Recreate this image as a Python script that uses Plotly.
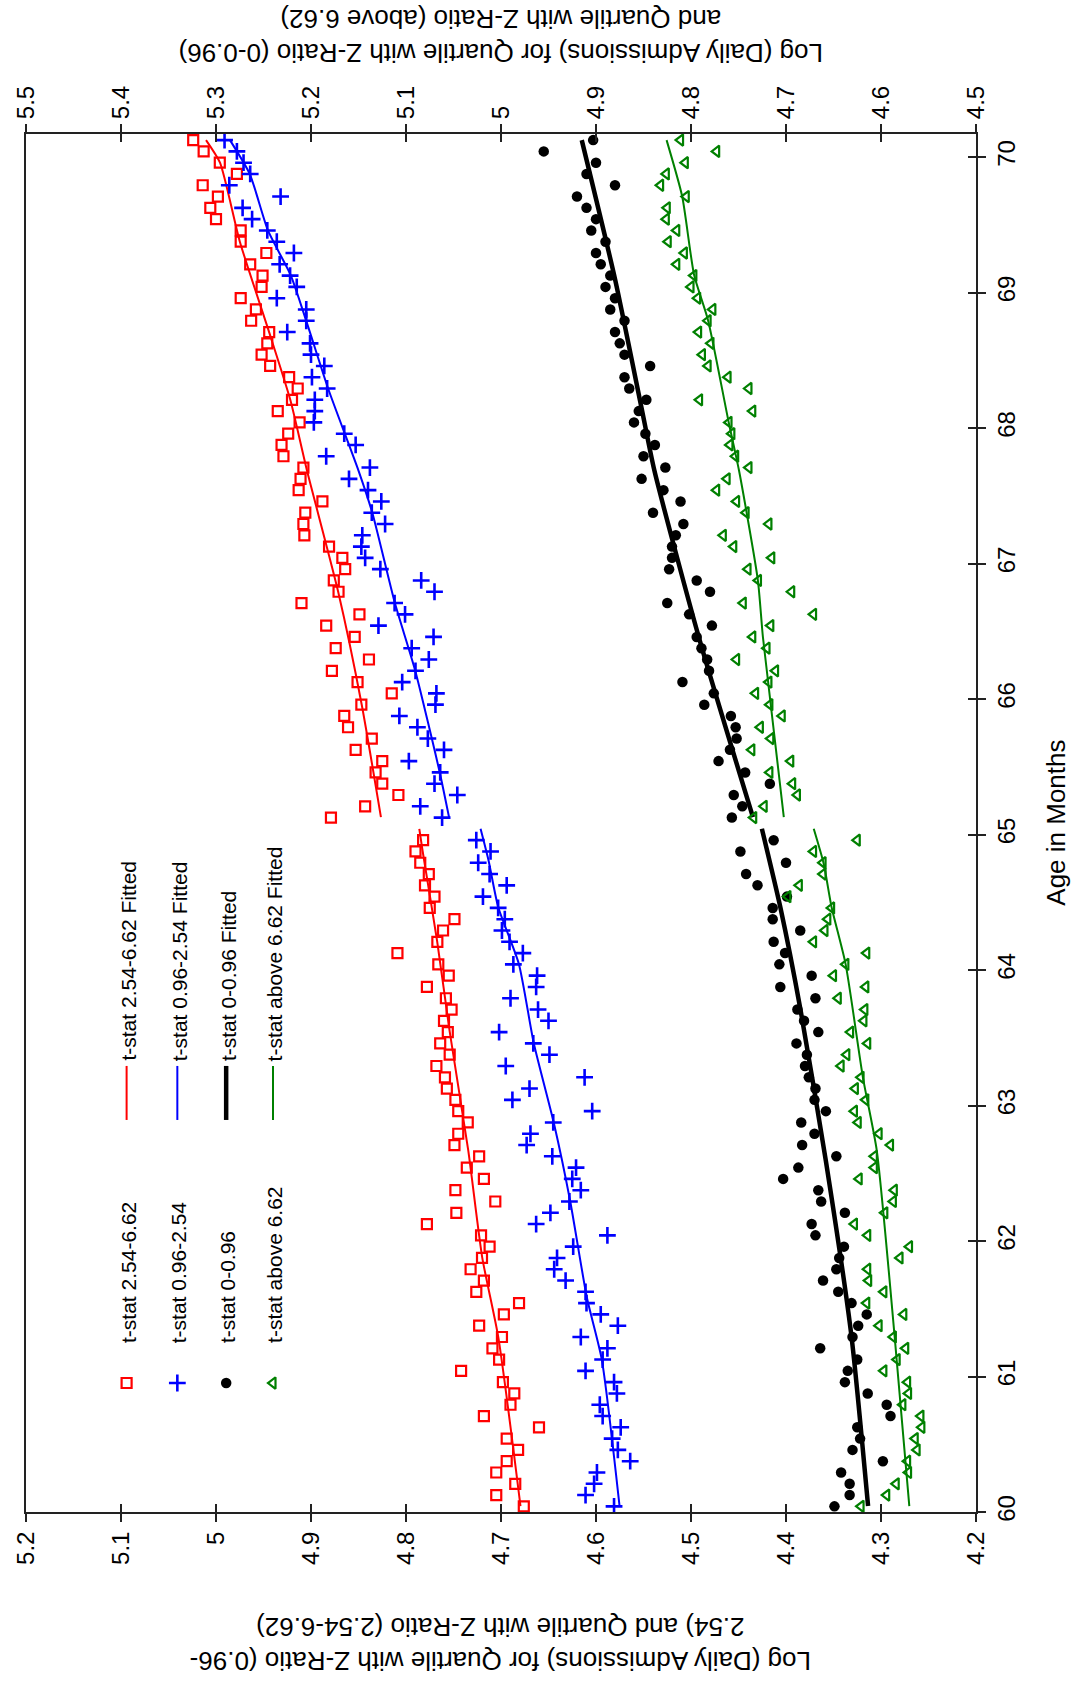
import plotly.graph_objects as go

# ---------------- data ----------------
MONTH_BINS_BELOW = list(range(0, 60))      # 1/12-month bins before age 65
MONTH_BINS_ABOVE = list(range(61, 122))    # 1/12-month bins after age 65
AGE_BELOW = [round(60 + (k + 0.5) / 12, 4) for k in MONTH_BINS_BELOW]
AGE_ABOVE = [round(60 + (k + 0.5) / 12, 4) for k in MONTH_BINS_ABOVE]

RED_BELOW = [4.676, 4.705, 4.685, 4.705, 4.694, 4.682, 4.694, 4.660, 4.718, 4.690,
             4.686, 4.698, 4.742, 4.702, 4.709, 4.699, 4.723, 4.697, 4.681, 4.726,
             4.718, 4.732, 4.720, 4.712, 4.721, 4.778, 4.747, 4.706, 4.748, 4.718,
             4.736, 4.723, 4.749, 4.745, 4.735, 4.745, 4.748, 4.757, 4.759, 4.768,
             4.754, 4.764, 4.756, 4.760, 4.752, 4.758, 4.778, 4.755, 4.766, 4.809,
             4.767, 4.761, 4.749, 4.775, 4.770, 4.780, 4.776, 4.785, 4.790, 4.782]
RED_ABOVE = [4.879, 4.843, 4.808, 4.825, 4.832, 4.825, 4.853, 4.836, 4.861, 4.865,
             4.847, 4.815, 4.851, 4.878, 4.839, 4.874, 4.854, 4.884, 4.849, 4.910,
             4.871, 4.876, 4.864, 4.867, 4.881, 4.907, 4.908, 4.906, 4.888, 4.913,
             4.911, 4.908, 4.929, 4.931, 4.924, 4.912, 4.935, 4.920, 4.914, 4.923,
             4.943, 4.952, 4.946, 4.944, 4.963, 4.958, 4.974, 4.952, 4.951, 4.964,
             4.947, 4.974, 4.974, 5.000, 5.006, 4.998, 5.014, 4.978, 4.996, 5.013,
             5.024]

BLUE_BELOW = [4.581, 4.611, 4.602, 4.599, 4.564, 4.577, 4.583, 4.574, 4.593, 4.596,
              4.578, 4.581, 4.611, 4.593, 4.588, 4.616, 4.577, 4.595, 4.610, 4.611,
              4.632, 4.644, 4.641, 4.624, 4.588, 4.663, 4.648, 4.628, 4.616, 4.625,
              4.621, 4.646, 4.673, 4.669, 4.645, 4.604, 4.688, 4.670, 4.612, 4.695,
              4.649, 4.666, 4.702, 4.650, 4.661, 4.690, 4.663, 4.662, 4.687, 4.677,
              4.691, 4.699, 4.696, 4.703, 4.719, 4.694, 4.712, 4.724, 4.711, 4.726]
BLUE_ABOVE = [4.762, 4.785, 4.746, 4.770, 4.764, 4.797, 4.760, 4.777, 4.788, 4.807,
              4.769, 4.768, 4.804, 4.790, 4.776, 4.794, 4.771, 4.829, 4.801, 4.812,
              4.770, 4.784, 4.827, 4.843, 4.847, 4.846, 4.822, 4.836, 4.826, 4.840,
              4.860, 4.838, 4.884, 4.853, 4.865, 4.897, 4.896, 4.896, 4.883, 4.899,
              4.886, 4.900, 4.901, 4.925, 4.905, 4.905, 4.936, 4.915, 4.922, 4.933,
              4.918, 4.936, 4.946, 4.962, 4.972, 4.932, 4.986, 4.964, 4.971, 4.978,
              4.991]

BLACK_BELOW = [4.649, 4.633, 4.633, 4.642, 4.598, 4.630, 4.622, 4.625, 4.590, 4.594,
               4.614, 4.638, 4.635, 4.625, 4.664, 4.630, 4.624, 4.615, 4.631, 4.645,
               4.661, 4.647, 4.644, 4.639, 4.669, 4.673, 4.638, 4.663, 4.666, 4.703,
               4.687, 4.647, 4.683, 4.670, 4.684, 4.658, 4.670, 4.669, 4.676, 4.680,
               4.678, 4.689, 4.666, 4.681, 4.688, 4.669, 4.706, 4.673, 4.707, 4.701,
               4.713, 4.685, 4.714, 4.714, 4.699, 4.730, 4.742, 4.700, 4.748, 4.713]
BLACK_ABOVE = [4.757, 4.746, 4.755, 4.717, 4.743, 4.771, 4.759, 4.752, 4.753, 4.758,
               4.786, 4.776, 4.809, 4.781, 4.783, 4.789, 4.794, 4.778, 4.802, 4.825,
               4.780, 4.794, 4.823, 4.820, 4.820, 4.816, 4.808, 4.840, 4.811, 4.829,
               4.852, 4.827, 4.850, 4.838, 4.848, 4.860, 4.855, 4.847, 4.865, 4.870,
               4.843, 4.870, 4.875, 4.880, 4.870, 4.885, 4.880, 4.890, 4.885, 4.895,
               4.900, 4.890, 4.905, 4.900, 4.910, 4.920, 4.880, 4.910, 4.900, 4.955,
               4.903]

GREEN_BELOW = [4.621, 4.594, 4.584, 4.571, 4.572, 4.562, 4.564, 4.557, 4.558, 4.577,
               4.571, 4.572, 4.597, 4.583, 4.574, 4.587, 4.602, 4.576, 4.615, 4.597,
               4.613, 4.614, 4.580, 4.570, 4.614, 4.628, 4.596, 4.587, 4.586, 4.623,
               4.607, 4.607, 4.590, 4.602, 4.624, 4.628, 4.616, 4.627, 4.621, 4.642,
               4.636, 4.614, 4.632, 4.618, 4.617, 4.645, 4.616, 4.650, 4.637, 4.615,
               4.671, 4.659, 4.656, 4.652, 4.698, 4.686, 4.661, 4.661, 4.671, 4.625]
GREEN_ABOVE = [4.734, 4.723, 4.688, 4.693, 4.717, 4.695, 4.736, 4.716, 4.727, 4.704,
               4.717, 4.732, 4.718, 4.711, 4.752, 4.720, 4.735, 4.716, 4.671, 4.745,
               4.694, 4.729, 4.740, 4.715, 4.755, 4.766, 4.718, 4.742, 4.752, 4.773,
               4.762, 4.739, 4.753, 4.759, 4.757, 4.760, 4.735, 4.791, 4.739, 4.761,
               4.782, 4.788, 4.779, 4.792, 4.782, 4.777, 4.793, 4.800, 4.797, 4.815,
               4.807, 4.824, 4.815, 4.826, 4.825, 4.805, 4.832, 4.826, 4.806, 4.773,
               4.811]

# fitted curves (age, value)
RED_FIT_BELOW_AGE = [60.044, 61.292, 61.876, 62.666, 63.545, 64.212, 64.882, 65.042]
RED_FIT_BELOW_VAL = [4.6795, 4.7029, 4.7197, 4.7344, 4.7540, 4.7672, 4.7826, 4.7860]
RED_FIT_ABOVE_AGE = [65.128, 65.958, 66.792, 67.688, 68.208, 68.708, 69.375, 69.958, 70.125]
RED_FIT_ABOVE_VAL = [4.8264, 4.8466, 4.8714, 4.9043, 4.9218, 4.9441, 4.9749, 4.9958, 5.0105]

BLUE_FIT_BELOW_AGE = [60.05, 61.125, 61.583, 62.292, 62.875, 63.46, 64.045, 64.463, 64.808, 65.042]
BLUE_FIT_BELOW_VAL = [4.5753, 4.5939, 4.6096, 4.6271, 4.6445, 4.6655, 4.6812, 4.7029, 4.7131, 4.7215]
BLUE_FIT_ABOVE_AGE = [65.128, 65.458, 66.209, 66.708, 67.373, 67.688, 68.292, 68.791, 69.129, 69.456, 69.874, 70.125]
BLUE_FIT_ABOVE_VAL = [4.7547, 4.7645, 4.7903, 4.8117, 4.8354, 4.8501, 4.8820, 4.9050, 4.9214, 4.9452, 4.9644, 4.9853]

BLACK_FIT_BELOW_AGE = [60.044, 61.292, 62.59, 63.71, 64.461, 65.042]
BLACK_FIT_BELOW_VAL = [4.6136, 4.6310, 4.6580, 4.6848, 4.7059, 4.7254]
BLACK_FIT_ABOVE_AGE = [65.128, 66.457, 67.688, 68.146, 69.1, 70.125]
BLACK_FIT_ABOVE_VAL = [4.7348, 4.7918, 4.8386, 4.8520, 4.8800, 4.9150]

GREEN_FIT_BELOW_AGE = [60.044, 61.292, 62.666, 63.21, 64.045, 64.463, 64.784, 65.042]
GREEN_FIT_BELOW_VAL = [4.5702, 4.5856, 4.6044, 4.6191, 4.6373, 4.6520, 4.6603, 4.6708]
GREEN_FIT_ABOVE_AGE = [65.128, 66.457, 66.876, 67.688, 68.045, 68.794, 69.129, 69.71, 70.125]
GREEN_FIT_ABOVE_VAL = [4.7023, 4.7243, 4.7296, 4.7495, 4.7604, 4.7820, 4.7967, 4.8093, 4.8257]

LEFT_TICKS = [4.2, 4.3, 4.4, 4.5, 4.6, 4.7, 4.8, 4.9, 5.0, 5.1, 5.2]
LEFT_TICK_TEXT = ["4.2", "4.3", "4.4", "4.5", "4.6", "4.7", "4.8", "4.9", "5", "5.1", "5.2"]
RIGHT_TICKS = [4.5, 4.6, 4.7, 4.8, 4.9, 5.0, 5.1, 5.2, 5.3, 5.4, 5.5]
RIGHT_TICK_TEXT = ["4.5", "4.6", "4.7", "4.8", "4.9", "5", "5.1", "5.2", "5.3", "5.4", "5.5"]
AGE_TICKS = [60, 61, 62, 63, 64, 65, 66, 67, 68, 69, 70]

LEGEND_LABELS = ["t-stat 2.54-6.62", "t-stat 0.96-2.54", "t-stat 0-0.96", "t-stat above 6.62"]

# ---------------- styles ----------------
FONT = "Liberation Sans, Arial, sans-serif"
RED, BLUE, BLACK, GREEN = "#ff0000", "#0000ff", "#000000", "#008000"
AX = "#222222"

series = [
    # name, color, symbol, size, stroke, below, above, fit_b_age, fit_b_val, fit_a_age, fit_a_val, xaxis, lw
    (LEGEND_LABELS[0], RED, "square-open", 10, 2.2, RED_BELOW, RED_ABOVE,
     RED_FIT_BELOW_AGE, RED_FIT_BELOW_VAL, RED_FIT_ABOVE_AGE, RED_FIT_ABOVE_VAL, "x", 2),
    (LEGEND_LABELS[1], BLUE, "cross-thin-open", 12, 2.6, BLUE_BELOW, BLUE_ABOVE,
     BLUE_FIT_BELOW_AGE, BLUE_FIT_BELOW_VAL, BLUE_FIT_ABOVE_AGE, BLUE_FIT_ABOVE_VAL, "x", 2),
    (LEGEND_LABELS[2], BLACK, "circle", 10.5, 0, BLACK_BELOW, BLACK_ABOVE,
     BLACK_FIT_BELOW_AGE, BLACK_FIT_BELOW_VAL, BLACK_FIT_ABOVE_AGE, BLACK_FIT_ABOVE_VAL, "x2", 4.5),
    (LEGEND_LABELS[3], GREEN, "triangle-left-open", 10, 2.2, GREEN_BELOW, GREEN_ABOVE,
     GREEN_FIT_BELOW_AGE, GREEN_FIT_BELOW_VAL, GREEN_FIT_ABOVE_AGE, GREEN_FIT_ABOVE_VAL, "x2", 2),
]


def marker_style(col, sym, size, stroke):
    m = dict(symbol=sym, size=size, color=col)
    if stroke:
        m["line"] = dict(color=col, width=stroke)
    else:
        m["line"] = dict(width=0)
    return m


fig = go.Figure()

# dummy traces so that helper axes exist
fig.add_trace(go.Scatter(x=[], y=[], xaxis="x3", yaxis="y2", showlegend=False, hoverinfo="skip"))
fig.add_trace(go.Scatter(x=[], y=[], xaxis="x4", yaxis="y2", showlegend=False, hoverinfo="skip"))

for (name, col, sym, size, stroke, below, above, fba, fbv, faa, fav, xa, lw) in series:
    for ages, vals in ((fba, fbv), (faa, fav)):
        fig.add_trace(go.Scatter(x=vals, y=ages, mode="lines", xaxis=xa, yaxis="y",
                                 line=dict(color=col, width=lw, shape="spline", smoothing=0.6),
                                 showlegend=False, hoverinfo="skip"))
    fig.add_trace(go.Scatter(x=below + above, y=AGE_BELOW + AGE_ABOVE, mode="markers",
                             xaxis=xa, yaxis="y", marker=marker_style(col, sym, size, stroke),
                             name=name, showlegend=False))

# ---------------- hand-drawn rotated legend ----------------
LEG_X = [0.1059, 0.1593, 0.2107, 0.2600]
annotations = []
shapes = []
for i, (name, col, sym, size, stroke, *_rest) in enumerate(series):
    lw = _rest[-1]
    fig.add_trace(go.Scatter(x=[LEG_X[i]], y=[0.0936], mode="markers", xaxis="x5", yaxis="y3",
                             marker=marker_style(col, sym, size, stroke),
                             showlegend=False, hoverinfo="skip"))
    shapes.append(dict(type="line", xref="paper", yref="paper", x0=LEG_X[i], x1=LEG_X[i],
                       y0=0.2845, y1=0.3237, line=dict(color=col, width=lw)))
    annotations.append(dict(text=name, xref="paper", yref="paper", x=LEG_X[i] + 0.002, y=0.1212,
                            xanchor="center", yanchor="bottom", textangle=-90, showarrow=False,
                            font=dict(family=FONT, size=21, color="black")))
    annotations.append(dict(text=name + " Fitted", xref="paper", yref="paper", x=LEG_X[i] + 0.002,
                            y=0.3258, xanchor="center", yanchor="bottom", textangle=-90,
                            showarrow=False, font=dict(family=FONT, size=21, color="black")))

# axis titles (rotated)
annotations.append(dict(text="Log (Daily Admissions) for Quartile with Z-Ratio (0.96-<br>"
                             "2.54) and Quartile with Z-Ratio (2.54-6.62)",
                        xref="paper", yref="paper", x=0.5, y=-0.0962, xanchor="center",
                        yanchor="middle", textangle=180, showarrow=False, align="center",
                        font=dict(family=FONT, size=26, color="black")))
annotations.append(dict(text="Log (Daily Admissions) for Quartile with Z-Ratio (0-0.96)<br>"
                             "and Quartile with Z-Ratio (above 6.62)",
                        xref="paper", yref="paper", x=0.5, y=1.0712, xanchor="center",
                        yanchor="middle", textangle=180, showarrow=False, align="center",
                        font=dict(family=FONT, size=26, color="black")))
annotations.append(dict(text="Age in Months", xref="paper", yref="paper", x=1.0839, y=0.5,
                        xanchor="center", yanchor="middle", textangle=-90, showarrow=False,
                        font=dict(family=FONT, size=26, color="black")))

tickfont = dict(family=FONT, size=24, color="black")
common = dict(showgrid=False, zeroline=False, tickcolor=AX, tickwidth=1.5, ticklen=8)

fig.update_layout(
    width=1076, height=1682,
    margin=dict(l=22, r=100, t=134, b=170),
    paper_bgcolor="white", plot_bgcolor="white",
    showlegend=False,
    xaxis=dict(domain=[0, 1], range=[5.2, 4.2], anchor="y", side="bottom",
               tickvals=LEFT_TICKS, ticktext=LEFT_TICK_TEXT, ticks="outside", tickangle=-90,
               showline=True, linecolor=AX, linewidth=2, tickfont=tickfont, **common),
    xaxis3=dict(overlaying="x", range=[5.2, 4.2], anchor="y", side="bottom",
                tickvals=LEFT_TICKS, ticks="inside", showticklabels=False, showline=False, **common),
    xaxis2=dict(overlaying="x", range=[5.5, 4.5], anchor="y", side="top",
                tickvals=RIGHT_TICKS, ticktext=RIGHT_TICK_TEXT, ticks="outside", tickangle=-90,
                showline=True, linecolor=AX, linewidth=2, tickfont=tickfont, **common),
    xaxis4=dict(overlaying="x", range=[5.5, 4.5], anchor="y", side="top",
                tickvals=RIGHT_TICKS, ticks="inside", showticklabels=False, showline=False, **common),
    xaxis5=dict(overlaying="x", range=[0, 1], visible=False),
    yaxis=dict(domain=[0, 1], range=[60, 70.17], anchor="x", side="right",
               tickvals=AGE_TICKS, ticks="outside", tickangle=-90, mirror=True,
               showline=True, linecolor=AX, linewidth=2, tickfont=tickfont, **common),
    yaxis2=dict(overlaying="y", range=[60, 70.17], anchor="x", side="right",
                tickvals=AGE_TICKS, ticks="inside", showticklabels=False, showline=False, **common),
    yaxis3=dict(overlaying="y", range=[0, 1], visible=False),
    annotations=annotations,
    shapes=shapes,
)

fig.write_html("out.html")
